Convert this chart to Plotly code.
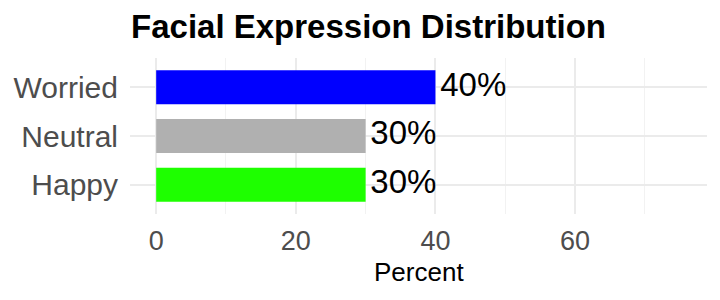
import plotly.graph_objects as go

categories = ["Happy", "Neutral", "Worried"]
percent = [30, 30, 40]
colors = ["#1EFF00", "#B0B0B0", "#0000FF"]
labels = [f"{v}%" for v in percent]
x_ticks = [0, 20, 40, 60]
x_minor = [10, 30, 50, 70]

FONT = "Liberation Sans, Arial, Helvetica, sans-serif"

fig = go.Figure()
fig.add_trace(go.Bar(
    y=categories, x=percent, orientation="h",
    marker=dict(color=colors, line=dict(width=0)),
    width=0.7,
    hoverinfo="skip",
))
fig.add_trace(go.Scatter(
    y=categories, x=percent, mode="markers+text",
    text=labels, textposition="middle right", cliponaxis=False,
    marker=dict(size=6, opacity=0),
    textfont=dict(family=FONT, size=33, color="black"),
    hoverinfo="skip",
))

fig.update_layout(
    width=720, height=300,
    margin=dict(l=130, r=13, t=58, b=86),
    paper_bgcolor="white", plot_bgcolor="white",
    showlegend=False,
    title=dict(text="<b>Facial Expression Distribution</b>", x=368.5/720, xanchor="center",
               y=1 - 26/300, yanchor="middle",
               font=dict(family=FONT, size=33, color="black")),
    xaxis=dict(range=[-3.75, 78.9], tickvals=x_ticks, ticktext=[str(v) for v in x_ticks],
               showgrid=True, gridcolor="#EBEBEB", gridwidth=1.6, zeroline=False,
               minor=dict(tickvals=x_minor, showgrid=True, gridcolor="#F2F2F2", gridwidth=1),
               tickfont=dict(family=FONT, size=27, color="#4D4D4D"),
               ticks="outside", ticklen=3, tickcolor="rgba(0,0,0,0)", showline=False),
    yaxis=dict(range=[-0.6, 2.6], categoryorder="array", categoryarray=categories,
               showgrid=True, gridcolor="#EBEBEB", gridwidth=1.6, zeroline=False,
               tickfont=dict(family=FONT, size=30, color="#4D4D4D"),
               ticks="outside", ticklen=5, tickcolor="rgba(0,0,0,0)", showline=False),
    annotations=[dict(text="Percent", x=0.5, xref="paper", y=1 - (272 - 58) / (300 - 58 - 86),
                      yref="paper", yanchor="middle",
                      showarrow=False, font=dict(family=FONT, size=26, color="black"))],
)
fig.write_html("out.html")
